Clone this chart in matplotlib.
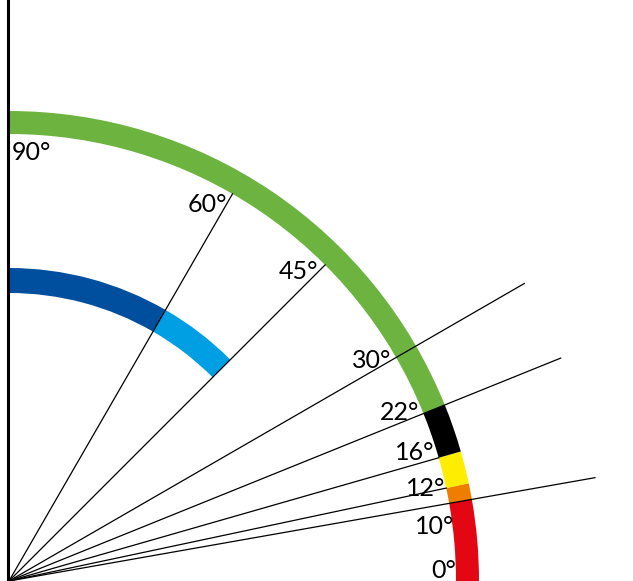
import numpy as np
import matplotlib
matplotlib.use("Agg")
import matplotlib.pyplot as plt
from matplotlib.patches import Wedge

plt.rcParams['font.family'] = ['Lato', 'DejaVu Sans']

# outer ring: angle boundaries (degrees) and colours
outer_edges = [0, 10, 12, 16, 22, 90]
outer_colors = ['#e30613', '#ef7d00', '#ffed00', '#000000', '#6db33f']

# inner ring
inner_edges = [45, 60, 90]
inner_colors = ['#009fe3', '#004f9f']

# rays from the origin; long ones cross the outer ring
ray_angles = [10, 12, 16, 22, 30, 45, 60]
ray_long = [True, False, False, True, True, False, False]

# angle labels
label_angles = [0, 10, 12, 16, 22, 30, 45, 60, 90]
# label offset from the inner edge of the outer ring (pixels, x right / y up)
label_offsets = {0: (-12, 11), 10: (-15, -23), 12: (-21, 0), 16: (-24, 5),
                 22: (-24, 1), 30: (-24, -3), 45: (-27, -7), 60: (-25, -11),
                 90: (22, -19)}

cx, cy = 9, 0
r_out_in, r_out_w = 447, 23
r_in_in, r_in_w = 288, 25
r_long = 595

fig = plt.figure(figsize=(6.33, 5.81), dpi=100)
ax = fig.add_axes([0, 0, 1, 1])
ax.set_xlim(0, 633)
ax.set_ylim(0, 581)
ax.axis('off')

for a0, a1, c in zip(outer_edges[:-1], outer_edges[1:], outer_colors):
    ax.add_patch(Wedge((cx, cy), r_out_in + r_out_w, a0, a1, width=r_out_w,
                       facecolor=c, edgecolor='none'))

for a0, a1, c in zip(inner_edges[:-1], inner_edges[1:], inner_colors):
    ax.add_patch(Wedge((cx, cy), r_in_in + r_in_w, a0, a1, width=r_in_w,
                       facecolor=c, edgecolor='none'))

for ang, long_ray in zip(ray_angles, ray_long):
    r = r_long if long_ray else r_out_in
    t = np.radians(ang)
    ax.plot([cx, cx + r * np.cos(t)], [cy, cy + r * np.sin(t)],
            color='black', lw=0.9, zorder=3)

# vertical axis
ax.plot([cx - 1, cx - 1], [cy, 581], color='black', lw=2.2, zorder=4)

for ang in label_angles:
    t = np.radians(ang)
    px = cx + r_out_in * np.cos(t)
    py = cy + r_out_in * np.sin(t)
    dx, dy = label_offsets[ang]
    ax.text(px + dx, py + dy, f'{ang}°', fontsize=18, ha='center', va='center',
            color='black')

fig.savefig('out.png', dpi=100)
